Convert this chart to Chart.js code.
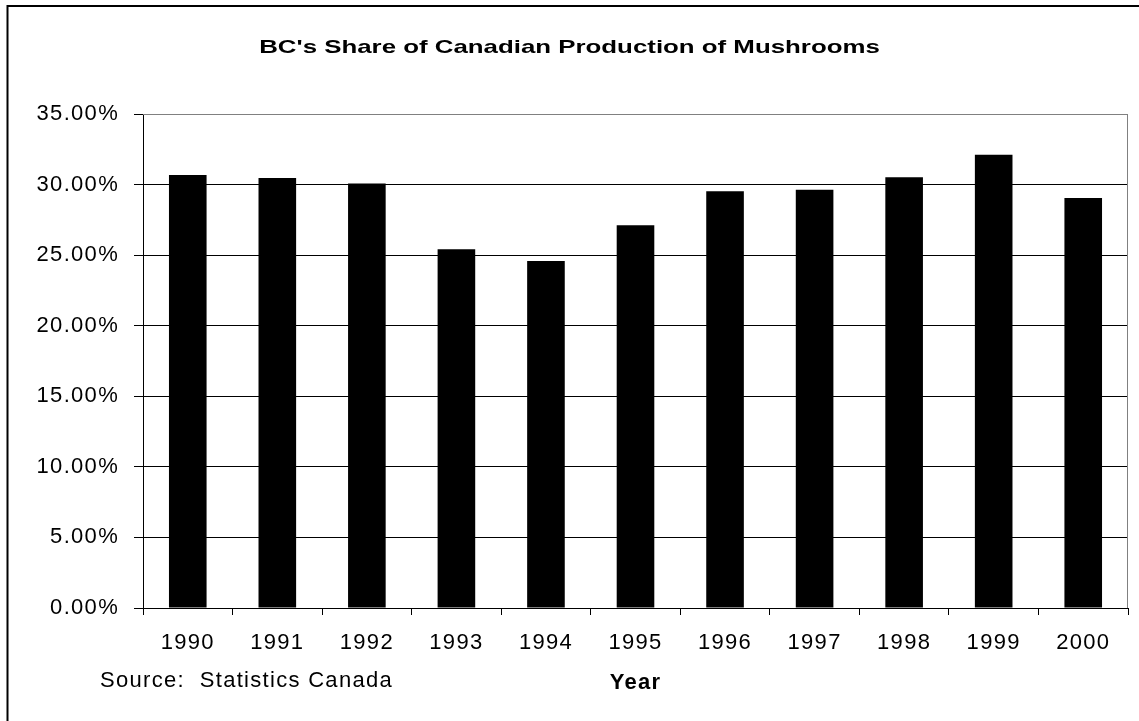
<!DOCTYPE html>
<html>
<head>
<meta charset="utf-8">
<script src="https://cdn.jsdelivr.net/npm/chart.js@4/dist/chart.umd.min.js"></script>
<style>
  body { margin: 0; background: #fff; }
  canvas { display: block; }
</style>
</head>
<body>
<canvas id="graficoCogumelos" width="1139" height="721"></canvas>
<script>
const anos = ['1990', '1991', '1992', '1993', '1994', '1995', '1996', '1997', '1998', '1999', '2000']
const participacaoBC = [30.68, 30.47, 30.07, 25.42, 24.58, 27.12, 29.53, 29.64, 30.52, 32.12, 29.05]
const eixoMin = 0
const eixoMax = 35
const passo = 5
const titulo = "BC's Share of Canadian Production of Mushrooms"
const fonte = 'Source:  Statistics Canada'
const tituloEixoX = 'Year'

const familia = '"Liberation Sans", Arial, sans-serif'

// moldura, borda da área do gráfico e textos soltos
const extras = {
    id: 'extras',
    beforeDraw(chart) {
        const ctx = chart.ctx
        ctx.save()
        ctx.fillStyle = '#fff'
        ctx.fillRect(0, 0, chart.width, chart.height)
        ctx.strokeStyle = '#000'
        ctx.lineWidth = 2
        ctx.beginPath()
        ctx.moveTo(chart.width + 10, 6)
        ctx.lineTo(7.5, 6)
        ctx.lineTo(7.5, chart.height + 10)
        ctx.stroke()
        ctx.restore()
        ctx.letterSpacing = '1.3px'
    },
    beforeDatasetsDraw(chart) {
        const ctx = chart.ctx
        const a = chart.chartArea
        ctx.save()
        ctx.strokeStyle = '#808080'
        ctx.lineWidth = 1
        ctx.beginPath()
        ctx.moveTo(a.left, a.top + 0.5)
        ctx.lineTo(a.right - 0.5, a.top + 0.5)
        ctx.lineTo(a.right - 0.5, a.bottom)
        ctx.stroke()
        ctx.restore()
    },
    afterDraw(chart) {
        const ctx = chart.ctx
        ctx.save()
        ctx.letterSpacing = '0px'
        ctx.fillStyle = '#000'
        ctx.textBaseline = 'middle'
        ctx.textAlign = 'center'
        ctx.font = 'bold 19px ' + familia
        ctx.translate(569.5, 48)
        ctx.scale(1.36, 1)
        ctx.fillText(titulo, 0, 0)
        ctx.restore()

        ctx.save()
        ctx.letterSpacing = '1.3px'
        ctx.fillStyle = '#000'
        ctx.textBaseline = 'middle'
        ctx.textAlign = 'left'
        ctx.font = '22px ' + familia
        ctx.fillText(fonte, 100, 681)
        ctx.restore()
    }
}

const grafico = new Chart(document.getElementById('graficoCogumelos'), {
    type: 'bar',
    data: {
        labels: anos,
        datasets: [{
            label: 'BC share',
            data: participacaoBC,
            backgroundColor: '#000',
            borderWidth: 0,
            barPercentage: 0.42,
            categoryPercentage: 1
        }]
    },
    options: {
        responsive: false,
        animation: false,
        devicePixelRatio: 1,
        layout: { padding: { top: 114, right: 11, left: 0, bottom: 0 } },
        plugins: {
            legend: { display: false },
            tooltip: { enabled: false }
        },
        scales: {
            x: {
                grid: {
                    offset: true,
                    drawOnChartArea: false,
                    drawTicks: true,
                    tickLength: 7,
                    color: '#000'
                },
                border: { color: '#000', width: 1 },
                ticks: {
                    color: '#000',
                    font: { family: familia, size: 22 },
                    padding: 15,
                    maxRotation: 0,
                    autoSkip: false
                },
                title: {
                    display: true,
                    text: tituloEixoX,
                    color: '#000',
                    font: { family: familia, size: 22, weight: 'bold' },
                    padding: { top: 0, bottom: 25 }
                },
                afterFit: (escala) => { escala.height = 113 }
            },
            y: {
                min: eixoMin,
                max: eixoMax,
                grid: {
                    color: (c) => c.tick && c.tick.value === eixoMax ? '#808080' : '#000',
                    tickColor: '#000',
                    tickLength: 9
                },
                border: { color: '#000', width: 1 },
                ticks: {
                    stepSize: passo,
                    color: '#000',
                    font: { family: familia, size: 22 },
                    padding: 15,
                    callback: (v) => v.toFixed(2) + '%'
                },
                afterFit: (escala) => { escala.width = 143 }
            }
        }
    },
    plugins: [extras]
})
</script>
</body>
</html>
